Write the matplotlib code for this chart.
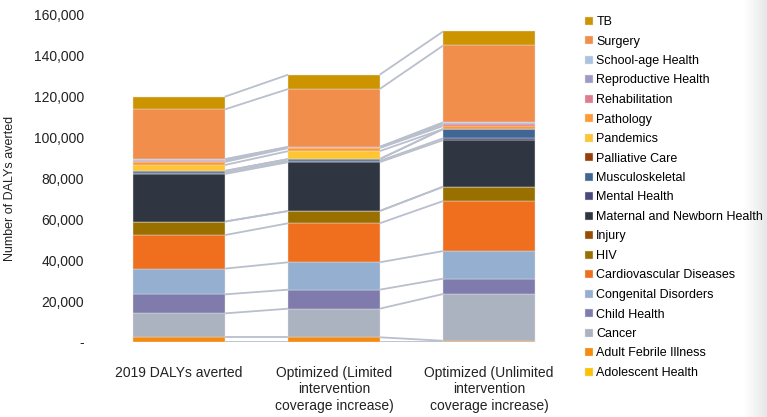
import numpy as np
import matplotlib
matplotlib.use("Agg")
import matplotlib.pyplot as plt
from matplotlib.ticker import FuncFormatter

plt.rcParams['font.family'] = ['Liberation Sans', 'DejaVu Sans']

categories = ["2019 DALYs averted",
              "Optimized (Limited\nintervention\ncoverage increase)",
              "Optimized (Unlimited\nintervention\ncoverage increase)"]

# stacking order bottom -> top
series_names = ["Adolescent Health", "Adult Febrile Illness", "Cancer", "Child Health",
                "Congenital Disorders", "Cardiovascular Diseases", "HIV", "Injury",
                "Maternal and Newborn Health", "Mental Health", "Musculoskeletal",
                "Palliative Care", "Pandemics", "Pathology", "Rehabilitation",
                "Reproductive Health", "School-age Health", "Surgery", "TB"]

adolescent   = [0, 0, 0]
adult_febrile = [2300, 2300, 600]
cancer       = [11700, 14000, 22900]
child        = [9300, 9300, 7500]
congenital   = [12600, 13400, 13500]
cardio       = [16400, 19100, 24500]
hiv          = [6600, 6000, 7000]
injury       = [0, 0, 0]
maternal     = [23300, 23900, 22800]
mental       = [700, 600, 900]
musculo      = [800, 900, 4500]
palliative   = [0, 0, 0]
pandemics    = [2900, 3900, 0]
pathology    = [1500, 1500, 1500]
rehab        = [500, 400, 800]
reproductive = [500, 100, 500]
school_age   = [400, 100, 500]
surgery      = [24300, 28300, 37600]
tb           = [6200, 7000, 6900]

series_values = [adolescent, adult_febrile, cancer, child, congenital, cardio, hiv,
                 injury, maternal, mental, musculo, palliative, pandemics, pathology,
                 rehab, reproductive, school_age, surgery, tb]

colors = ["#FFC000", "#F7890C", "#ABB2C0", "#7F7BAD", "#94AFCF", "#EF6F1E", "#997000",
          "#994C00", "#2F3541", "#4A4A7A", "#3F6695", "#993D0A", "#FFC533", "#FF9933",
          "#E07A8F", "#9E9AC8", "#A9C4E0", "#F28E4C", "#CC9500"]

W, H = 767, 417
fig = plt.figure(figsize=(W / 100, H / 100), dpi=100)
ax = fig.add_axes([101.5 / W, 1 - 342 / H, (566.5 - 101.5) / W, (342 - 15) / H])

x = np.arange(len(categories))
width = 0.59
bottom = np.zeros(len(categories))
tops = []
handles = []
for name, vals, col in zip(series_names, series_values, colors):
    vals = np.array(vals, dtype=float)
    b = ax.bar(x, vals, width, bottom=bottom, color=col, label=name,
               edgecolor='#E4E4E4', linewidth=0.3, zorder=3)
    handles.append(b)
    bottom = bottom + vals
    tops.append(bottom.copy())

# series lines
for top in tops:
    for i in range(len(categories) - 1):
        ax.plot([x[i] + width / 2, x[i + 1] - width / 2], [top[i], top[i + 1]],
                color='#B9BFCC', lw=1.3, zorder=2, solid_capstyle='butt')

ax.set_xlim(-0.5, 2.5)
ax.set_ylim(0, 160000)
ax.set_yticks(np.arange(0, 160001, 20000))
ax.yaxis.set_major_formatter(FuncFormatter(lambda v, p: "-" if v == 0 else f"{int(v):,}"))
ax.set_xticks(x)
ax.set_xticklabels(categories, fontsize=10, color='#222222', linespacing=1.25)
ax.tick_params(axis='y', length=0, pad=12.5, labelsize=10, colors='#222222')
ax.tick_params(axis='x', length=0, pad=17)
for s in ax.spines.values():
    s.set_visible(False)
ax.set_ylabel("Number of DALYs averted", fontsize=9, color='#222222')
ax.yaxis.set_label_coords(-(101.5 - 16) / (566.5 - 101.5), (342 - 188) / 327)

leg = fig.legend(handles[::-1], series_names[::-1], loc='upper left',
                 bbox_to_anchor=(580 / W, 1 - 11 / H), frameon=False, fontsize=9,
                 handlelength=0.6, handleheight=0.6, handletextpad=0.3,
                 labelspacing=0.6, borderaxespad=0)

# soft shadow at right edge
gax = fig.add_axes([743 / W, 0, 24 / W, 1])
grad = np.linspace(0, 1, 50)[None, :] ** 1.2
gax.imshow(grad, aspect='auto', cmap=matplotlib.colors.LinearSegmentedColormap.from_list(
    'g', ['#FFFFFF', '#E6E6E6']), extent=[0, 1, 0, 1])
gax.axis('off')
gax.set_zorder(-1)

fig.savefig("out.png", dpi=100)
